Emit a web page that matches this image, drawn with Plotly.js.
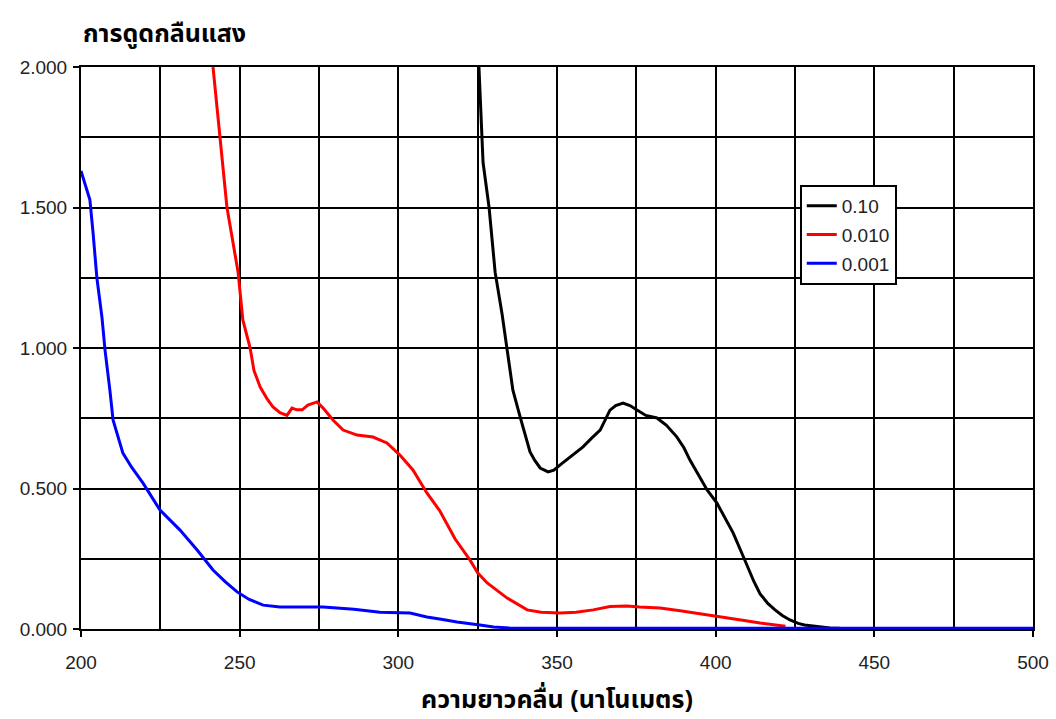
<!DOCTYPE html>
<html>
<head>
<meta charset="utf-8">
<script src="https://cdn.plot.ly/plotly-3.0.1.min.js"></script>
<style>html,body{margin:0;padding:0;background:#fff;}#chart{width:1056px;height:719px;}</style>
</head>
<body>
<div id="chart"></div>
<script>
// Series names
const seriesNames = ["0.10", "0.010", "0.001"];

// 0.10 series
const x010 = [325.4, 326.4, 326.7, 328.6, 330.5, 332.7, 334.3, 336.1, 338.4, 340, 341.5, 343, 344.7, 347.2, 349, 351, 354, 358.2, 361, 363.6, 366.7, 368.5, 370.8, 373, 375.2, 378, 381.5, 384.5, 387.8, 390, 391.9, 394.5, 397.3, 400.4, 403, 405.5, 409, 412, 414, 416.5, 418.7, 421, 423.4, 426, 428, 433, 436, 439];
const y010 = [2.0, 1.75, 1.66, 1.5, 1.27, 1.12, 1.0, 0.85, 0.754, 0.69, 0.63, 0.60, 0.573, 0.559, 0.565, 0.584, 0.61, 0.648, 0.68, 0.708, 0.779, 0.795, 0.804, 0.795, 0.779, 0.76, 0.751, 0.725, 0.683, 0.645, 0.601, 0.55, 0.495, 0.448, 0.395, 0.342, 0.25, 0.17, 0.125, 0.09, 0.068, 0.048, 0.032, 0.02, 0.014, 0.007, 0.004, 0.003];

// 0.010 series
const x0010 = [241.6, 243.8, 246, 249.5, 251, 253.3, 254.5, 256.5, 258.6, 260.5, 262.7, 264.9, 266.5, 268, 269.7, 271.5, 274.4, 276.3, 279.4, 282.6, 287, 292, 296.4, 300.5, 304.6, 309, 313.1, 317.9, 322.6, 325, 328, 334.3, 340.6, 345, 351, 356, 361.4, 366.7, 372, 376, 382.5, 388.8, 395, 400, 404.5, 409, 414, 418, 422];
const y0010 = [2.0, 1.75, 1.5, 1.27, 1.10, 1.0, 0.92, 0.86, 0.82, 0.79, 0.77, 0.76, 0.786, 0.78, 0.78, 0.797, 0.808, 0.786, 0.744, 0.708, 0.69, 0.683, 0.662, 0.619, 0.566, 0.484, 0.42, 0.32, 0.245, 0.2, 0.164, 0.11, 0.068, 0.06, 0.057, 0.06, 0.068, 0.08, 0.082, 0.078, 0.075, 0.065, 0.055, 0.045, 0.038, 0.03, 0.021, 0.015, 0.01];

// 0.001 series
const x0001 = [200, 202.8, 203.8, 205, 206.6, 207.6, 209.1, 210.1, 213.2, 216, 219.5, 224.9, 231.2, 236.6, 241.6, 245.5, 249.2, 253, 257.4, 262.7, 269, 276.3, 286, 294.2, 303.7, 309, 313.5, 318.5, 325.7, 330, 335, 340, 360, 400, 450, 500];
const y0001 = [1.63, 1.527, 1.41, 1.25, 1.11, 0.99, 0.85, 0.744, 0.626, 0.575, 0.52, 0.423, 0.352, 0.281, 0.21, 0.168, 0.132, 0.105, 0.085, 0.078, 0.078, 0.078, 0.07, 0.06, 0.057, 0.043, 0.035, 0.025, 0.014, 0.007, 0.004, 0.003, 0.003, 0.003, 0.003, 0.003];

const yTitle = "การดูดกลืนแสง";
const xTitle = "ความยาวคลื่น (นาโนเมตร)";

const thaiFont = '"Noto Sans Thai", "Noto Sans", "DejaVu Sans", sans-serif';

const traces = [
  {x: x010, y: y010, name: seriesNames[0], legendgroup: 'a', mode: 'lines', line: {color: '#000000', width: 3}},
  {x: x0010, y: y0010, name: seriesNames[1], legendgroup: 'b', mode: 'lines', line: {color: '#ff0000', width: 3}},
  {x: x0001, y: y0001, name: seriesNames[2], legendgroup: 'c', mode: 'lines', line: {color: '#0000ff', width: 3}}
];

const layout = {
  width: 1056, height: 719,
  margin: {l: 81, r: 23, t: 67, b: 90},
  paper_bgcolor: '#ffffff', plot_bgcolor: '#ffffff',
  font: {family: '"Liberation Sans", Arial, sans-serif', size: 19, color: '#222'},
  showlegend: true,
  legend: {x: 0.755, y: 0.79, xanchor: 'left', yanchor: 'top', bgcolor: '#ffffff', bordercolor: '#000', borderwidth: 2,
    font: {size: 19, color: '#222'}, traceorder: 'grouped', tracegroupgap: 1, itemwidth: 30},
  xaxis: {
    range: [200, 500], dtick: 50, tick0: 200,
    showgrid: true, gridcolor: '#000', gridwidth: 2,
    minor: {dtick: 25, showgrid: true, gridcolor: '#000', gridwidth: 2},
    ticks: 'outside', ticklen: 6, tickwidth: 2, tickcolor: '#000',
    ticklabelstandoff: 9,
    showline: true, linecolor: '#000', linewidth: 2, mirror: true,
    zeroline: false, layer: 'below traces',
    title: {text: xTitle, font: {family: thaiFont, size: 25, color: '#000', weight: 'bold'}, standoff: 23}
  },
  yaxis: {
    range: [0, 2], dtick: 0.5, tick0: 0, tickformat: '.3f',
    showgrid: true, gridcolor: '#000', gridwidth: 2,
    minor: {dtick: 0.25, showgrid: true, gridcolor: '#000', gridwidth: 2},
    ticks: 'outside', ticklen: 6, tickwidth: 2, tickcolor: '#000',
    ticklabelstandoff: 2,
    showline: true, linecolor: '#000', linewidth: 2, mirror: true,
    zeroline: false, layer: 'below traces'
  },
  annotations: [{
    text: '<b>' + yTitle + '</b>', xref: 'paper', yref: 'paper', x: 0, y: 1, xanchor: 'left', yanchor: 'bottom',
    yshift: 12, showarrow: false, font: {family: thaiFont, size: 25, color: '#000'}
  }]
};

Plotly.newPlot('chart', traces, layout, {displayModeBar: false, staticPlot: true});
</script>
</body>
</html>
